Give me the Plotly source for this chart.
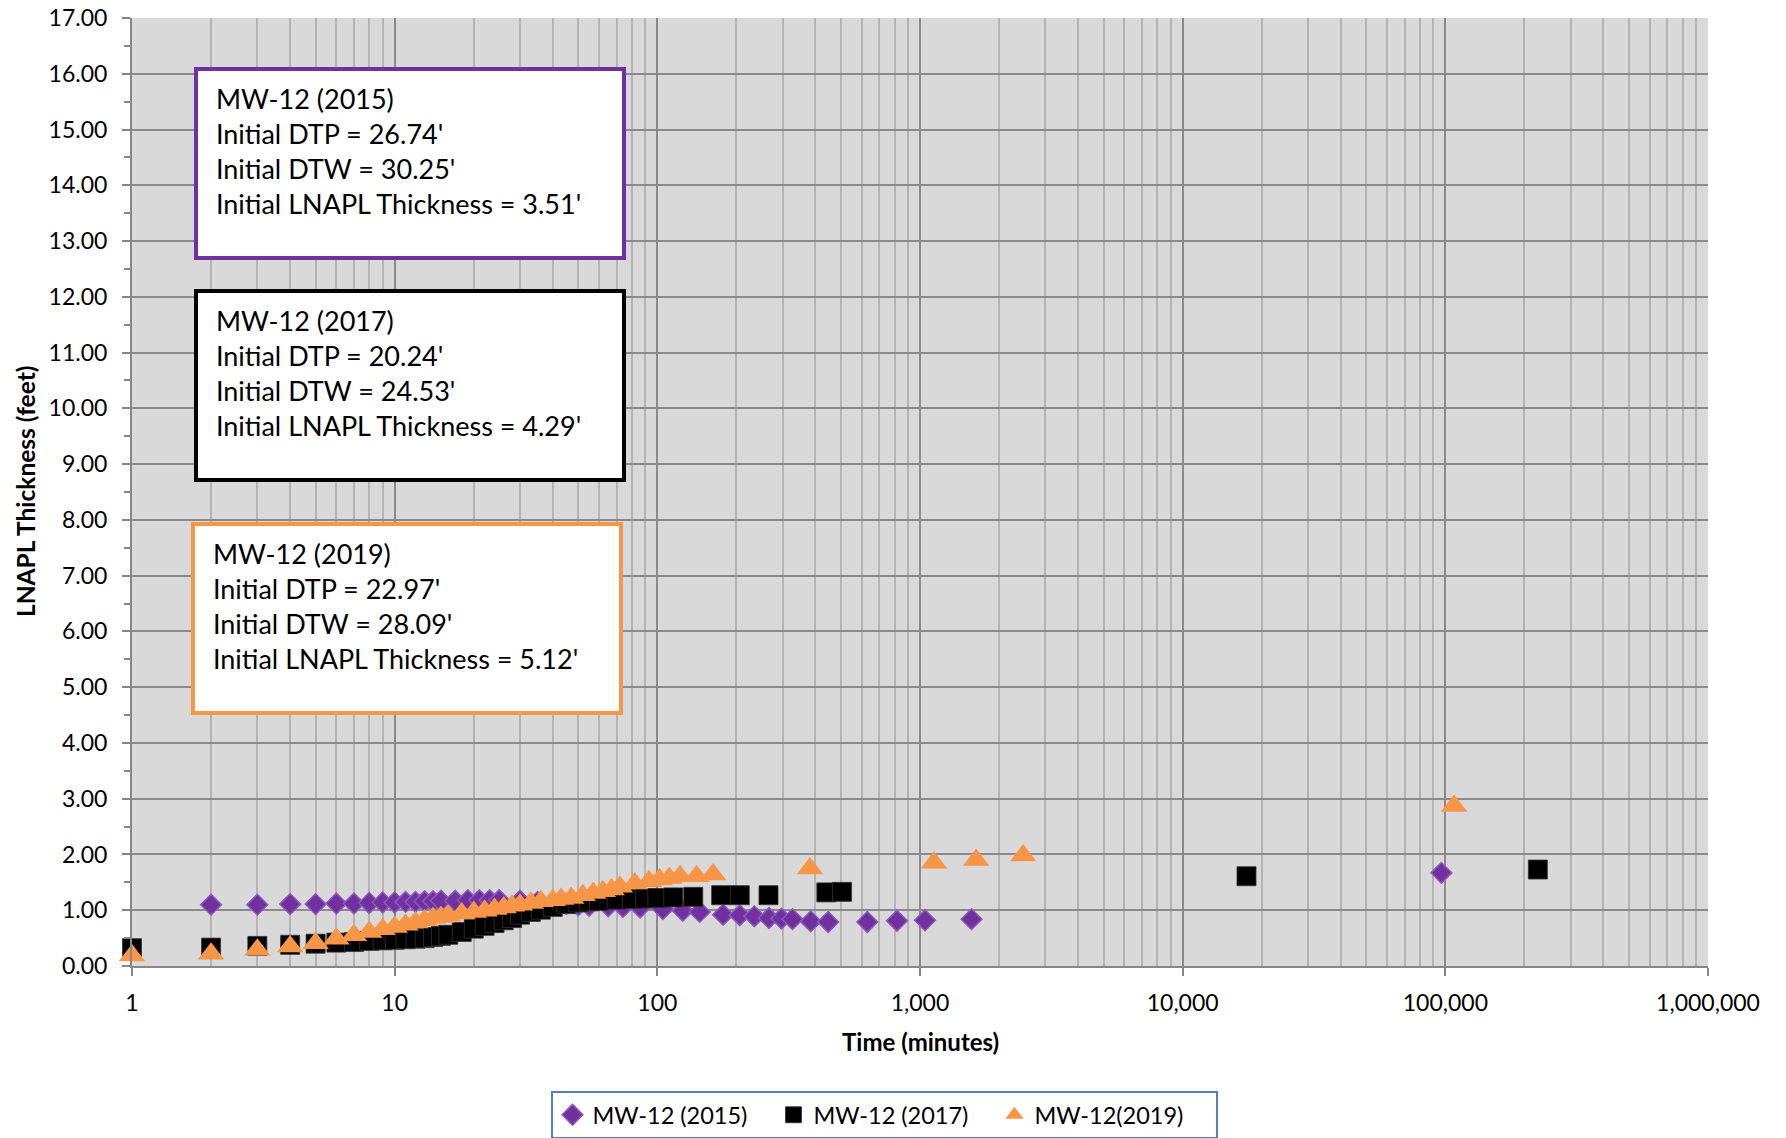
import plotly.graph_objects as go

# ---------------- data ----------------
t_2015 = [2, 3, 4, 5, 6, 7, 8, 9, 10, 11, 12, 13, 14, 15, 17, 19, 21, 23, 25, 30, 35, 40, 45,
          50, 55, 65, 74, 86, 105, 125, 145, 178, 206, 234, 266, 297, 327, 384, 447, 630,
          817, 1045, 1571, 96600]
v_2015 = [1.10, 1.10, 1.11, 1.11, 1.12, 1.12, 1.13, 1.14, 1.14, 1.15, 1.15, 1.16, 1.16, 1.17,
          1.17, 1.18, 1.18, 1.18, 1.18, 1.17, 1.15, 1.13, 1.11, 1.09, 1.08, 1.07, 1.06, 1.05,
          1.02, 0.99, 0.97, 0.92, 0.91, 0.89, 0.86, 0.85, 0.84, 0.80, 0.79, 0.79, 0.81, 0.82,
          0.84, 1.67]

t_2017 = [1, 2, 3, 4, 5, 6, 7, 8, 9, 10, 11, 12, 13, 14, 15, 16, 18, 20, 22, 24, 26, 28, 30,
          33, 36, 40, 45, 50, 55, 60, 70, 80, 90, 100, 115, 137, 175, 206, 265, 440, 505,
          17500, 225000]
v_2017 = [0.32, 0.33, 0.36, 0.38, 0.40, 0.42, 0.43, 0.45, 0.46, 0.47, 0.48, 0.49, 0.50, 0.52,
          0.54, 0.56, 0.61, 0.67, 0.72, 0.77, 0.82, 0.86, 0.92, 0.97, 1.01, 1.06, 1.11, 1.14,
          1.16, 1.17, 1.19, 1.20, 1.21, 1.22, 1.23, 1.24, 1.27, 1.27, 1.27, 1.32, 1.33, 1.61,
          1.73]

t_2019 = [1, 2, 3, 4, 5, 6, 7, 8, 9, 10, 11, 12, 13, 14, 15, 16, 18, 20, 22, 24, 26, 28, 30,
          33, 36, 40, 43, 47, 52, 57, 62, 67, 72, 82, 93, 102, 111, 122, 141, 163, 381, 1130,
          1635, 2470, 108000]
v_2019 = [0.19, 0.22, 0.29, 0.35, 0.41, 0.49, 0.55, 0.61, 0.66, 0.70, 0.74, 0.78, 0.82, 0.86,
          0.88, 0.90, 0.94, 0.97, 0.99, 1.02, 1.05, 1.08, 1.10, 1.13, 1.16, 1.18, 1.20, 1.22,
          1.27, 1.31, 1.34, 1.37, 1.42, 1.48, 1.52, 1.55, 1.58, 1.61, 1.61, 1.64, 1.75, 1.85,
          1.90, 1.98, 2.87]

series_names = ["MW-12 (2015)", "MW-12 (2017)", "MW-12(2019)"]

x_tickvals = [1, 10, 100, 1000, 10000, 100000, 1000000]
x_ticktext = ["1", "10", "100", "1,000", "10,000", "100,000", "1,000,000"]
x_minorvals = [m * d for d in [1, 10, 100, 1000, 10000, 100000] for m in range(2, 10)]

box_lines = [
    ["MW-12 (2015)", "Initial DTP = 26.74'", "Initial DTW = 30.25'", "Initial LNAPL Thickness = 3.51'"],
    ["MW-12 (2017)", "Initial DTP = 20.24'", "Initial DTW = 24.53'", "Initial LNAPL Thickness = 4.29'"],
    ["MW-12 (2019)", "Initial DTP = 22.97'", "Initial DTW = 28.09'", "Initial LNAPL Thickness = 5.12'"],
]

# ---------------- style ----------------
PURPLE = "#7030a0"
ORANGE = "#f79646"
FONT = "Lato"
W, H = 1786, 1138
L, R, T, B = 132, 78, 18, 172
PW, PH = W - L - R, H - T - B


def px(xp):
    return (xp - L) / PW


def py(yp):
    return (H - B - yp) / PH


fig = go.Figure()
fig.add_trace(go.Scatter(
    x=t_2015, y=v_2015, mode="markers", name=series_names[0], cliponaxis=False,
    marker=dict(symbol="diamond", size=16, color=PURPLE, line=dict(color="#8a5bb8", width=1.5)),
))
fig.add_trace(go.Scatter(
    x=t_2017, y=v_2017, mode="markers", name=series_names[1], cliponaxis=False,
    marker=dict(symbol="square", size=19, color="#000000", line=dict(color="#333333", width=0.8)),
))
fig.add_trace(go.Scatter(
    x=t_2019, y=v_2019, mode="markers", name=series_names[2], cliponaxis=False,
    marker=dict(symbol="triangle-up", size=23, color=ORANGE, line=dict(width=0)),
))

box_colors = [PURPLE, "#000000", ORANGE]
box_lefts = [194, 194, 191]
box_tops = [67, 289, 522]
bw, bp = 4, 11
for lines, col, bl, bt in zip(box_lines, box_colors, box_lefts, box_tops):
    txt = "<br>".join("\u00a0" + s for s in lines)
    fig.add_annotation(
        text=txt, xref="paper", yref="paper", x=px(bl), y=py(bt),
        xanchor="left", yanchor="top", align="left", valign="top",
        showarrow=False, bgcolor="white", bordercolor=col, borderwidth=bw, borderpad=bp,
        width=432 - 2 * (bw + bp), height=193 - 2 * (bw + bp),
        font=dict(family=FONT, size=27, color="#000000"),
    )

# axis titles
fig.add_annotation(text="<b>Time (minutes)</b>", xref="paper", yref="paper",
                   x=px(920), y=py(1041), xanchor="center", yanchor="middle", showarrow=False,
                   font=dict(family=FONT, size=24, color="#000000"))
fig.add_annotation(text="<b>LNAPL Thickness (feet)</b>", xref="paper", yref="paper",
                   x=px(25), y=py(492), xanchor="center", yanchor="middle", showarrow=False,
                   textangle=-90, font=dict(family=FONT, size=24.5, color="#000000"))

fig.update_layout(
    width=W, height=H,
    margin=dict(l=L, r=R, t=T, b=B, autoexpand=False),
    paper_bgcolor="white", plot_bgcolor="#d9d9d9",
    font=dict(family=FONT, size=23, color="#000000"),
    showlegend=True,
    legend=dict(orientation="h", x=px(884), y=py(1091), xanchor="center", yanchor="top",
                bgcolor="white", bordercolor="#4f81bd", borderwidth=2,
                font=dict(family=FONT, size=23.5, color="#000000"),
                entrywidth=176, entrywidthmode="pixels", itemsizing="trace"),
)

fig.update_xaxes(
    type="log", range=[0, 6], tickmode="array", tickvals=x_tickvals, ticktext=x_ticktext,
    showgrid=True, gridcolor="#8a8a8a", gridwidth=2,
    showline=True, linecolor="#868686", linewidth=2,
    ticks="outside", ticklen=8, tickcolor="#868686", tickwidth=2,
    ticklabelstandoff=7, zeroline=False,
    minor=dict(tickmode="array", tickvals=x_minorvals, showgrid=True,
               gridcolor="#b3b3b3", gridwidth=1.5, ticks=""),
)
fig.update_yaxes(
    range=[0, 17], dtick=1, tick0=0, tickformat=".2f",
    showgrid=True, gridcolor="#8a8a8a", gridwidth=2,
    showline=True, linecolor="#868686", linewidth=2,
    ticks="outside", ticklen=8, tickcolor="#868686", tickwidth=2,
    ticklabelstandoff=10, zeroline=False,
    minor=dict(dtick=0.5, tick0=0, ticks="outside", ticklen=6, tickcolor="#868686",
               tickwidth=2, showgrid=False),
)

fig.write_html("out.html")
